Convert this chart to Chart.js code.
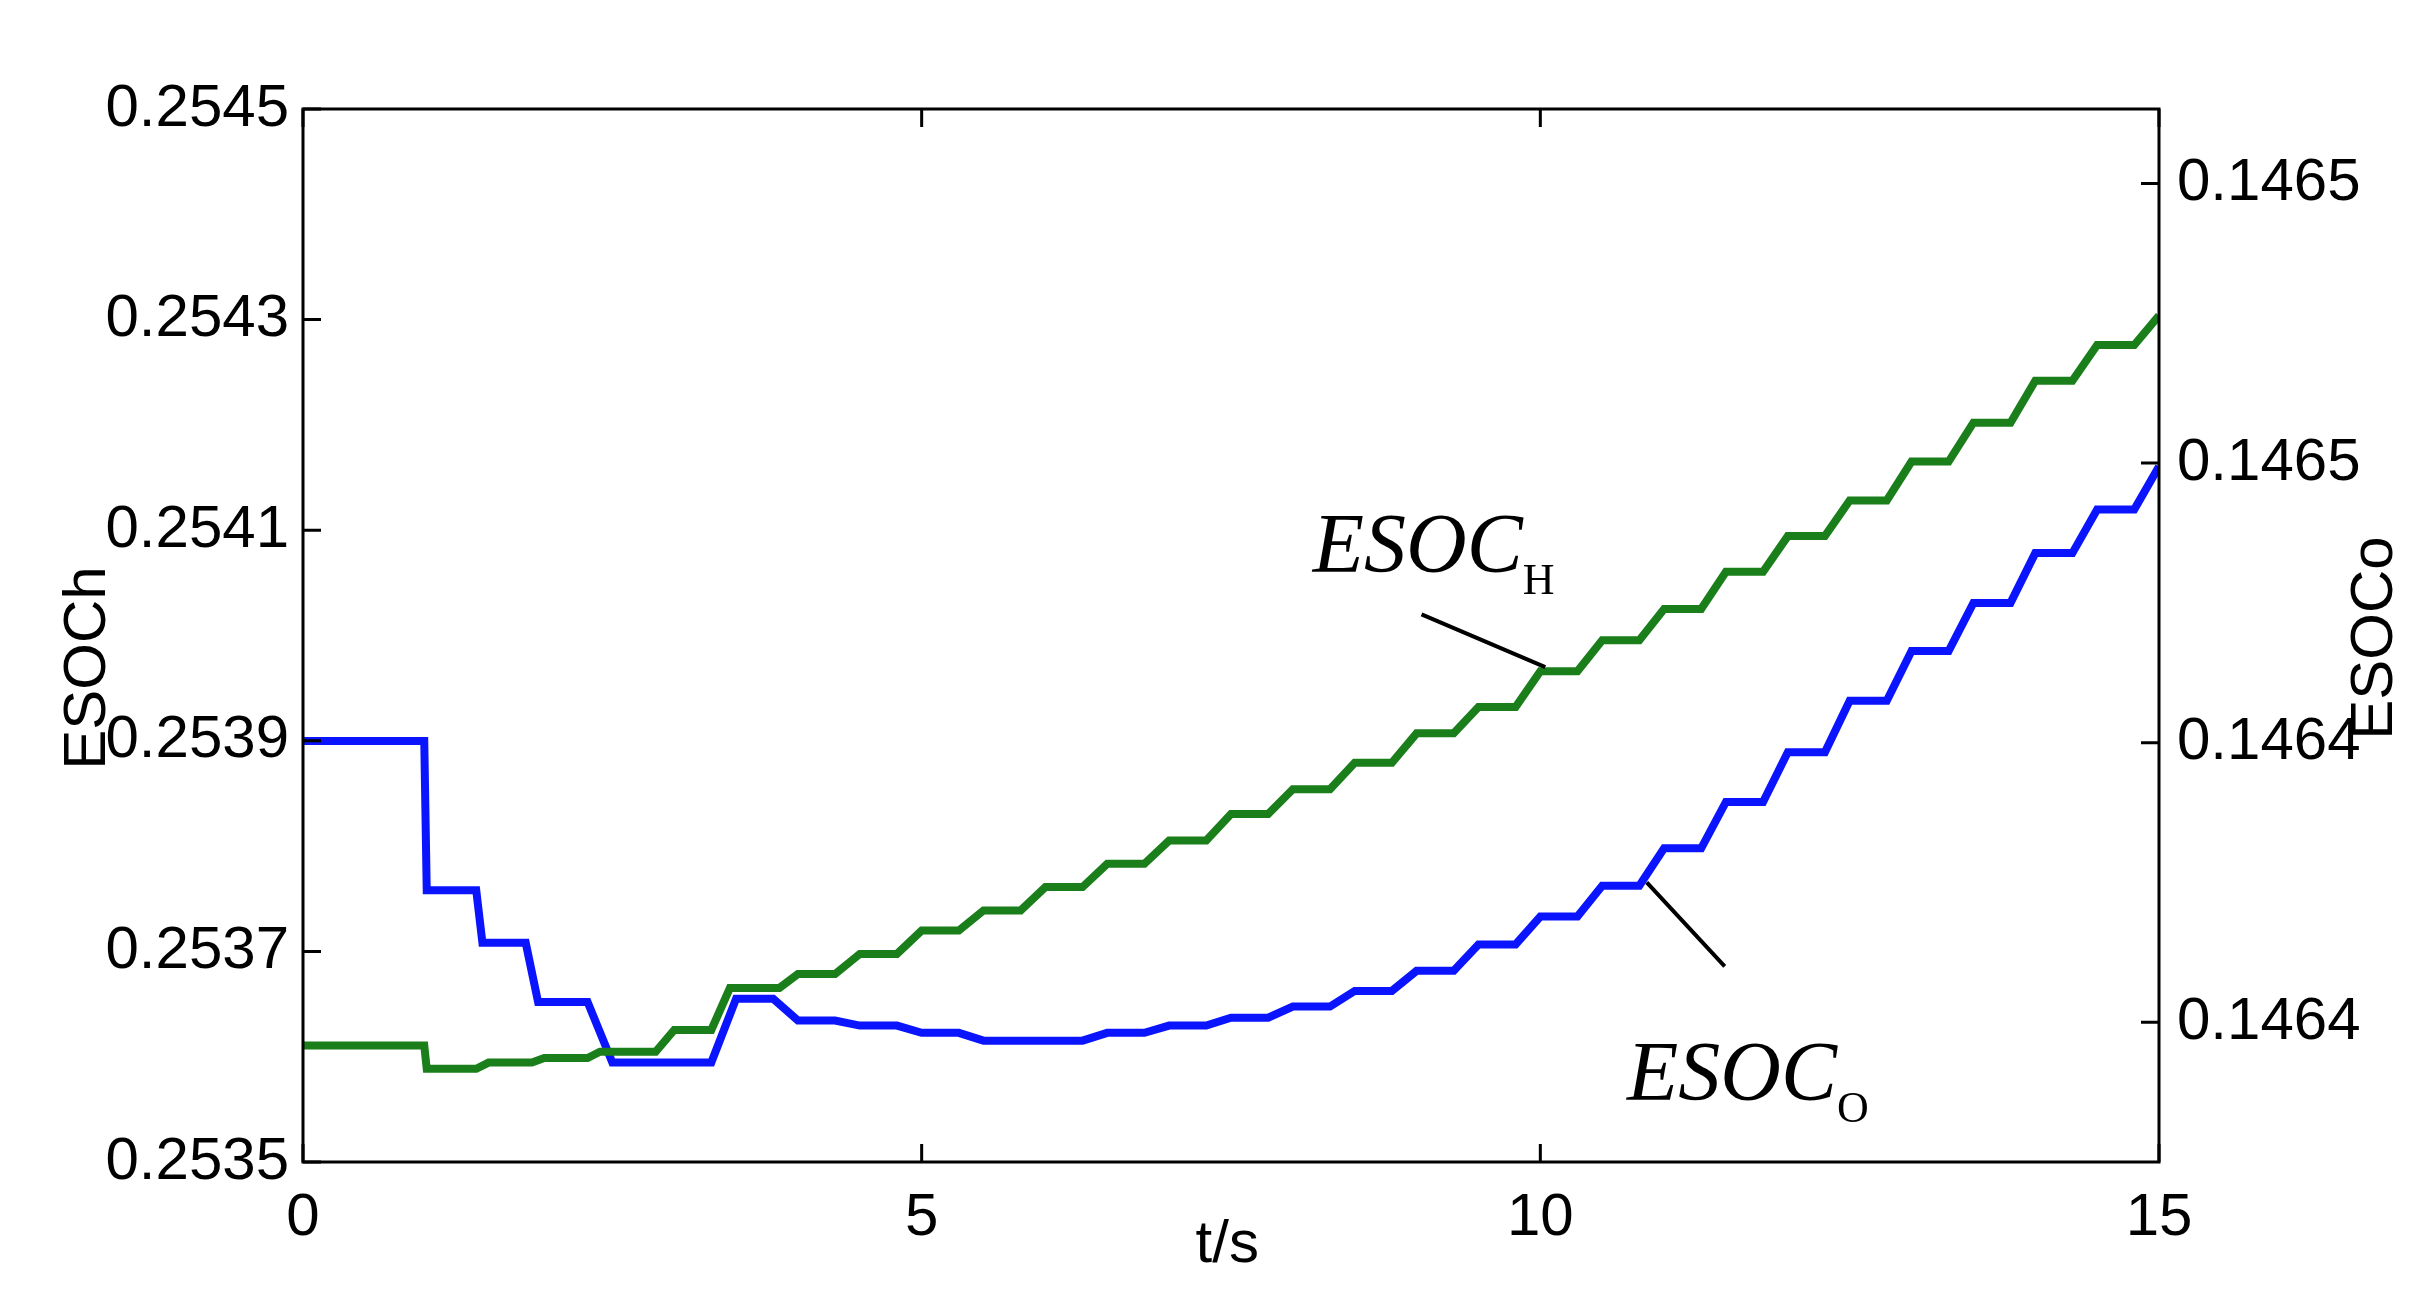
<!DOCTYPE html>
<html><head><meta charset="utf-8">
<script src="https://cdn.jsdelivr.net/npm/chart.js@4"></script>
<style>html,body{margin:0;padding:0;background:#fff}#w{width:2422px;height:1310px}</style>
</head><body><div id="w"><canvas id="c"></canvas></div>
<script>
// ESOC_H (left axis): flat segments [start, end, level]
const hStart = [0, 1.0, 1.5, 1.95, 2.4, 3.0, 3.45, 4.0, 4.5, 5.0, 5.5, 6.0, 6.5, 7.0, 7.5, 8.0, 8.5, 9.0, 9.5, 10.0, 10.5, 11.0, 11.5, 12.0, 12.5, 13.0, 13.5, 14.0, 14.5, 15.0];
const hEnd   = [0.98, 1.4, 1.85, 2.3, 2.85, 3.3, 3.85, 4.3, 4.8, 5.3, 5.8, 6.3, 6.8, 7.3, 7.8, 8.3, 8.8, 9.3, 9.8, 10.3, 10.8, 11.3, 11.8, 12.3, 12.8, 13.3, 13.8, 14.3, 14.8, 15.0];
const hLevel = [0.2536106, 0.2535885, 0.2535944, 0.2535988, 0.2536047, 0.2536254, 0.2536652, 0.2536785, 0.2536976, 0.2537198, 0.2537389, 0.2537611, 0.2537832, 0.2538053, 0.2538304, 0.2538540, 0.2538791, 0.2539071, 0.2539321, 0.2539661, 0.2539956, 0.2540251, 0.2540605, 0.2540944, 0.2541283, 0.2541652, 0.2542021, 0.2542419, 0.2542758, 0.2543038];
// ESOC_O (right axis)
const oStart = [0, 1.0, 1.45, 1.9, 2.5, 3.5, 4.0, 4.5, 5.0, 5.5, 6.5, 7.0, 7.5, 8.0, 8.5, 9.0, 9.5, 10.0, 10.5, 11.0, 11.5, 12.0, 12.5, 13.0, 13.5, 14.0, 14.5, 15.0];
const oEnd   = [0.98, 1.4, 1.8, 2.3, 3.3, 3.8, 4.3, 4.8, 5.3, 6.3, 6.8, 7.3, 7.8, 8.3, 8.8, 9.3, 9.8, 10.3, 10.8, 11.3, 11.8, 12.3, 12.8, 13.3, 13.8, 14.3, 14.8, 15.0];
const oLevel = [0.1464003, 0.1463736, 0.1463642, 0.1463536, 0.1463428, 0.1463542, 0.1463503, 0.1463494, 0.1463481, 0.1463467, 0.1463481, 0.1463494, 0.1463508, 0.1463528, 0.1463556, 0.1463592, 0.1463639, 0.1463689, 0.1463744, 0.1463811, 0.1463894, 0.1463983, 0.1464075, 0.1464164, 0.1464250, 0.1464339, 0.1464417, 0.1464494];
const xTicks = [0, 5, 10, 15];
const leftTicks = [0.2535, 0.2537, 0.2539, 0.2541, 0.2543, 0.2545];
const rightTicks = [0.14635, 0.1464, 0.14645, 0.1465];
const rightLabels = ['0.1464', '0.1464', '0.1465', '0.1465'];

function build(s, e, l) {
  const pts = [];
  for (let i = 0; i < s.length; i++) {
    pts.push({x: s[i], y: l[i]});
    if (e[i] > s[i]) pts.push({x: e[i], y: l[i]});
  }
  return pts;
}

const frame = {
  id: 'frame',
  afterDatasetsDraw(ch) {
    const {ctx, chartArea: a, scales} = ch;
    ctx.save();
    ctx.strokeStyle = '#000'; ctx.lineWidth = 3;
    ctx.strokeRect(a.left, a.top, a.right - a.left, a.bottom - a.top);
    const L = 18;
    ctx.beginPath();
    xTicks.forEach(v => { const x = scales.x.getPixelForValue(v); ctx.moveTo(x, a.bottom); ctx.lineTo(x, a.bottom - L); ctx.moveTo(x, a.top); ctx.lineTo(x, a.top + L); });
    leftTicks.forEach(v => { const y = scales.y.getPixelForValue(v); ctx.moveTo(a.left, y); ctx.lineTo(a.left + L, y); });
    rightTicks.forEach(v => { const y = scales.y2.getPixelForValue(v); ctx.moveTo(a.right, y); ctx.lineTo(a.right - L, y); });
    ctx.stroke();
    ctx.fillStyle = '#000';
    ctx.font = '60px "Liberation Sans", Arial';
    ctx.textAlign = 'center'; ctx.textBaseline = 'middle';
    ctx.fillText('t/s', scales.x.getPixelForValue(7.47), 1245);
    ctx.save(); ctx.translate(88, 668); ctx.rotate(-Math.PI / 2); ctx.fillText('ESOCh', 0, 0); ctx.restore();
    ctx.save(); ctx.translate(2375, 638); ctx.rotate(-Math.PI / 2); ctx.fillText('ESOCo', 0, 0); ctx.restore();
    function label(txt, sub, x, y) {
      ctx.textAlign = 'left'; ctx.textBaseline = 'alphabetic';
      ctx.font = 'italic 84px "Liberation Serif", "Times New Roman"';
      ctx.fillText(txt, x, y);
      const w = ctx.measureText(txt).width;
      ctx.font = '44px "Liberation Serif", "Times New Roman"';
      ctx.fillText(sub, x + w, y + 22);
    }
    ctx.lineWidth = 4;
    ctx.beginPath();
    ctx.moveTo(scales.x.getPixelForValue(9.04), scales.y.getPixelForValue(0.25402));
    ctx.lineTo(scales.x.getPixelForValue(10.04), scales.y.getPixelForValue(0.25397));
    ctx.moveTo(scales.x.getPixelForValue(10.86), scales.y2.getPixelForValue(0.146375));
    ctx.lineTo(scales.x.getPixelForValue(11.49), scales.y2.getPixelForValue(0.146360));
    ctx.stroke();
    label('ESOC', 'H', scales.x.getPixelForValue(8.16), scales.y.getPixelForValue(0.25406));
    label('ESOC', 'O', scales.x.getPixelForValue(10.7), scales.y2.getPixelForValue(0.146336));
    ctx.restore();
  }
};

const tickFont = { size: 60, family: '"Liberation Sans", Arial' };
new Chart(document.getElementById('c'), {
  type: 'line',
  data: { datasets: [
    { data: build(hStart, hEnd, hLevel), borderColor: '#1a7f1a', borderWidth: 8, pointRadius: 0, yAxisID: 'y', tension: 0 },
    { data: build(oStart, oEnd, oLevel), borderColor: '#0a14ff', borderWidth: 8, pointRadius: 0, yAxisID: 'y2', tension: 0 }
  ]},
  options: {
    responsive: true, maintainAspectRatio: false, animation: false,
    layout: { padding: { top: 109, right: 0, left: 0, bottom: 0 } },
    plugins: { legend: { display: false }, tooltip: { enabled: false } },
    scales: {
      x: { type: 'linear', min: 0, max: 15,
        afterBuildTicks: s => { s.ticks = xTicks.map(v => ({value: v})); },
        afterFit: s => { s.height = 148; },
        grid: { display: false }, border: { display: false },
        ticks: { color: '#000', font: tickFont, padding: 12, maxRotation: 0 } },
      y: { position: 'left', min: 0.2535, max: 0.2545,
        afterBuildTicks: s => { s.ticks = leftTicks.map(v => ({value: v})); },
        afterFit: s => { s.width = 303; },
        grid: { display: false }, border: { display: false },
        ticks: { color: '#000', font: tickFont, padding: 6, callback: v => v.toFixed(4) } },
      y2: { position: 'right', min: 0.146325, max: 0.14651333,
        afterBuildTicks: s => { s.ticks = rightTicks.map(v => ({value: v})); },
        afterFit: s => { s.width = 263; },
        grid: { display: false }, border: { display: false },
        ticks: { color: '#000', font: tickFont, padding: 10, callback: (v, i) => rightLabels[i] } }
    }
  },
  plugins: [frame]
});
</script></body></html>
